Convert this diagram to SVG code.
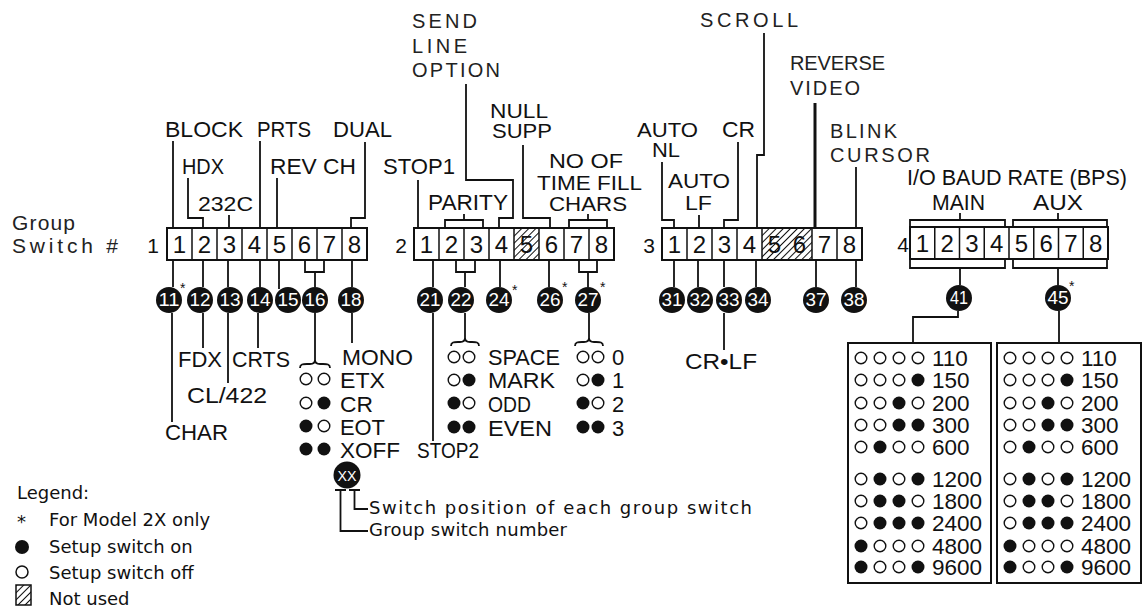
<svg xmlns="http://www.w3.org/2000/svg" width="1145" height="611" viewBox="0 0 1145 611">
<defs>
<pattern id="hatch" patternUnits="userSpaceOnUse" width="5" height="5" patternTransform="rotate(45)">
<line x1="0" y1="0" x2="0" y2="5" stroke="#111" stroke-width="2"/>
</pattern>
<circle id="dOn" cx="0" cy="0" r="6.5" fill="#111"/>
<circle id="dOff" cx="0" cy="0" r="5.8" fill="#fff" stroke="#111" stroke-width="1.4"/>
<style>
.t{font-family:"Liberation Sans",Arial,sans-serif;font-size:22px;fill:#111}
.s{font-family:"Liberation Sans",Arial,sans-serif;font-size:20px;fill:#111}
.w{font-family:"Liberation Sans",Arial,sans-serif;font-size:20px;fill:#222}
.d{font-family:"Liberation Sans",Arial,sans-serif;font-size:24px;fill:#111;text-anchor:middle}
.n{font-family:"Liberation Sans",Arial,sans-serif;font-size:18px;fill:#fff;text-anchor:middle}
.g{font-family:"Liberation Sans",Arial,sans-serif;font-size:21px;fill:#111;text-anchor:end}
.b{font-family:"Liberation Sans",Arial,sans-serif;font-size:22.5px;fill:#111}
.lg{font-family:"DejaVu Sans",sans-serif;font-size:18px;fill:#111}
.ln{stroke:#111;stroke-width:1.8;fill:none}
.box{fill:#fff;stroke:#111;stroke-width:2}
.cell{stroke:#111;stroke-width:1.5;fill:none}
.bk{fill:#111}
.ast{font-family:"Liberation Sans",Arial,sans-serif;font-size:14px;fill:#111}
</style>
</defs>
<rect width="1145" height="611" fill="#fff"/>

<g id="title">
<text class="w" x="12" y="230" style="font-size:21px" textLength="63" lengthAdjust="spacing">Group</text>
<text class="w" x="12" y="253" style="font-size:21px" textLength="106" lengthAdjust="spacing">Switch #</text>
</g>

<!-- connectors -->
<g id="connectors" class="ln">
<!-- group 1 top -->
<path d="M173,141V228"/>
<path d="M188,178V218H203V228"/>
<path d="M229,215V228"/>
<path d="M260,141V228"/>
<path d="M277,178V228"/>
<path d="M365,142V218H351V228"/>
<!-- group 1 bottom -->
<path d="M173,260V287"/>
<path d="M203,260V287"/>
<path d="M228,260V287"/>
<path d="M260,260V287"/>
<path d="M279,260V289"/>
<path d="M305,260V272H324V260M315,272V287"/>
<path d="M352,260V287"/>
<path d="M172,313V422"/>
<path d="M203,313V348"/>
<path d="M228,313V383"/>
<path d="M258,313V348"/>
<path d="M315,313V360"/>
<path d="M300,368C300,364 303,364 307,364H310C313,364 315,363 315,360C315,363 317,364 320,364H323C327,364 330,364 330,368"/>
<path d="M352,313V343"/>
<!-- group 2 top -->
<path d="M418,180V228"/>
<path d="M445,228V220H483V228M464,220V214"/>
<path d="M466,84V180H513V218H499V228"/>
<path d="M523,145V218H550V228"/>
<path d="M569,228V220H607V228M588,220V214"/>
<!-- group 2 bottom -->
<path d="M433,260V287"/>
<path d="M456,260V272H475V260M465,272V287"/>
<path d="M500,260V287"/>
<path d="M549,260V287"/>
<path d="M579,260V272H597V260M588,272V287"/>
<path d="M433,313V441"/>
<path d="M465,313V338"/>
<path d="M451,346C451,342 454,342 458,342H460C463,342 465,341 465,338C465,341 467,342 470,342H472C476,342 479,342 479,346"/>
<path d="M589,313V338"/>
<path d="M575,346C575,342 578,342 582,342H584C587,342 589,341 589,338C589,341 591,342 594,342H596C600,342 603,342 603,346"/>
<!-- group 3 top -->
<path d="M662,162V220H674V228"/>
<path d="M699,215V228"/>
<path d="M738,142V220H724V228"/>
<path d="M764,33V155H757V228"/>
<path d="M815,103V228" stroke-width="3"/>
<path d="M856,167V228"/>
<!-- group 3 bottom -->
<path d="M674,260V287"/>
<path d="M698,260V287"/>
<path d="M724,260V287"/>
<path d="M756,260V287"/>
<path d="M816,260V287"/>
<path d="M856,260V287"/>
<path d="M724,313V350"/>
<!-- group 4 -->
<path d="M910,228V220H1005V228M960,220V213"/>
<path d="M1013,228V220H1107V228M1058,220V213"/>
<path d="M910,259V268H1005V259M960,268V285"/>
<path d="M1013,259V268H1107V259M1058,268V285"/>
<path d="M958,311V317H913V343"/>
<path d="M1059,311V343"/>
<!-- legend key -->
<path d="M335,490H346M340.5,490V531H368"/>
<path d="M349,490H360M354.5,490V509H368"/>
</g>

<!-- switch group 1 -->
<g id="switch1">
<text class="g" x="159" y="253">1</text>
<rect class="box" x="167" y="228" width="200" height="32"/>
<path class="cell" d="M192,228V260M217,228V260M242,228V260M267,228V260M292,228V260M317,228V260M342,228V260"/>
<text class="d" x="179.5" y="253">1</text><text class="d" x="204.5" y="253">2</text><text class="d" x="229.5" y="253">3</text><text class="d" x="254.5" y="253">4</text><text class="d" x="279.5" y="253">5</text><text class="d" x="304.5" y="253">6</text><text class="d" x="329.5" y="253">7</text><text class="d" x="354.5" y="253">8</text>
</g>

<!-- switch group 2 -->
<g id="switch2">
<text class="g" x="407" y="253">2</text>
<rect class="box" x="414" y="228" width="200" height="32"/>
<text class="d" x="426.5" y="253">1</text><text class="d" x="451.5" y="253">2</text><text class="d" x="476.5" y="253">3</text><text class="d" x="501.5" y="253">4</text><text class="d" x="526.5" y="253">5</text><text class="d" x="551.5" y="253">6</text><text class="d" x="576.5" y="253">7</text><text class="d" x="601.5" y="253">8</text>
<rect x="514" y="229" width="25" height="30" fill="url(#hatch)"/>
<path class="cell" d="M439,228V260M464,228V260M489,228V260M514,228V260M539,228V260M564,228V260M589,228V260"/>
</g>

<!-- switch group 3 -->
<g id="switch3">
<text class="g" x="655" y="253">3</text>
<rect class="box" x="662" y="228" width="200" height="32"/>
<text class="d" x="674.5" y="253">1</text><text class="d" x="699.5" y="253">2</text><text class="d" x="724.5" y="253">3</text><text class="d" x="749.5" y="253">4</text><text class="d" x="774.5" y="253">5</text><text class="d" x="799.5" y="253">6</text><text class="d" x="824.5" y="253">7</text><text class="d" x="849.5" y="253">8</text>
<rect x="762" y="229" width="50" height="30" fill="url(#hatch)"/>
<path class="cell" d="M687,228V260M712,228V260M737,228V260M762,228V260M812,228V260M837,228V260"/>
</g>

<!-- switch group 4 -->
<g id="switch4">
<text class="g" x="909" y="252">4</text>
<rect class="box" x="910" y="227" width="198" height="32"/>
<path class="cell" d="M934.75,227V259M959.5,227V259M984.25,227V259M1009,227V259M1033.75,227V259M1058.5,227V259M1083.25,227V259"/>
<text class="d" x="922.4" y="252">1</text><text class="d" x="947.1" y="252">2</text><text class="d" x="971.9" y="252">3</text><text class="d" x="996.6" y="252">4</text><text class="d" x="1021.4" y="252">5</text><text class="d" x="1046.1" y="252">6</text><text class="d" x="1070.9" y="252">7</text><text class="d" x="1095.6" y="252">8</text>
</g>

<!-- top labels -->
<g id="labels-top">
<text class="t" x="165" y="137" textLength="78" lengthAdjust="spacingAndGlyphs">BLOCK</text>
<text class="t" x="257" y="137" textLength="54" lengthAdjust="spacingAndGlyphs">PRTS</text>
<text class="t" x="333" y="137" textLength="59" lengthAdjust="spacingAndGlyphs">DUAL</text>
<text class="t" x="182" y="174" textLength="42" lengthAdjust="spacingAndGlyphs">HDX</text>
<text class="t" x="270" y="174" textLength="86" lengthAdjust="spacingAndGlyphs">REV CH</text>
<text class="s" x="198" y="211" textLength="55" lengthAdjust="spacingAndGlyphs">232C</text>
<text class="w" x="412" y="28" textLength="65" lengthAdjust="spacing">SEND</text>
<text class="w" x="412" y="53" textLength="55" lengthAdjust="spacing">LINE</text>
<text class="w" x="412" y="77" textLength="88" lengthAdjust="spacing">OPTION</text>
<text class="t" x="383" y="174" textLength="72" lengthAdjust="spacingAndGlyphs">STOP1</text>
<text class="t" x="428" y="210" textLength="80" lengthAdjust="spacingAndGlyphs">PARITY</text>
<text class="s" x="490" y="118" textLength="58" lengthAdjust="spacingAndGlyphs">NULL</text>
<text class="s" x="492" y="138" textLength="60" lengthAdjust="spacingAndGlyphs">SUPP</text>
<text class="s" x="549" y="168" textLength="74" lengthAdjust="spacingAndGlyphs">NO OF</text>
<text class="s" x="537" y="190" textLength="105" lengthAdjust="spacingAndGlyphs">TIME FILL</text>
<text class="s" x="549" y="211" textLength="78" lengthAdjust="spacingAndGlyphs">CHARS</text>
<text class="s" x="637" y="137" textLength="61" lengthAdjust="spacingAndGlyphs">AUTO</text>
<text class="s" x="652" y="157" textLength="28" lengthAdjust="spacingAndGlyphs">NL</text>
<text class="s" x="668" y="188" textLength="62" lengthAdjust="spacingAndGlyphs">AUTO</text>
<text class="s" x="685" y="210" textLength="27" lengthAdjust="spacingAndGlyphs">LF</text>
<text class="t" x="722" y="137" textLength="33" lengthAdjust="spacingAndGlyphs">CR</text>
<text class="w" x="700" y="27" textLength="98" lengthAdjust="spacing">SCROLL</text>
<text class="w" x="790" y="70" textLength="95" lengthAdjust="spacing">REVERSE</text>
<text class="w" x="790" y="95" textLength="70" lengthAdjust="spacing">VIDEO</text>
<text class="w" x="830" y="138" textLength="67" lengthAdjust="spacing">BLINK</text>
<text class="w" x="830" y="162" textLength="100" lengthAdjust="spacing">CURSOR</text>
<text class="t" x="907" y="185" textLength="220" lengthAdjust="spacingAndGlyphs">I/O BAUD RATE (BPS)</text>
<text class="t" x="932" y="210" textLength="53" lengthAdjust="spacingAndGlyphs">MAIN</text>
<text class="t" x="1033" y="210" textLength="50" lengthAdjust="spacingAndGlyphs">AUX</text>
</g>

<!-- badges -->
<g id="b11"><circle class="bk" cx="169" cy="300" r="13"/><text class="n" x="169" y="306" textLength="21" lengthAdjust="spacingAndGlyphs">11</text><text class="ast" x="180" y="293">*</text></g>
<g id="b12"><circle class="bk" cx="200" cy="300" r="13"/><text class="n" x="200" y="306" textLength="21" lengthAdjust="spacingAndGlyphs">12</text></g>
<g id="b13"><circle class="bk" cx="230" cy="300" r="13"/><text class="n" x="230" y="306" textLength="21" lengthAdjust="spacingAndGlyphs">13</text></g>
<g id="b14"><circle class="bk" cx="260" cy="300" r="13"/><text class="n" x="260" y="306" textLength="21" lengthAdjust="spacingAndGlyphs">14</text></g>
<g id="b15"><circle class="bk" cx="288" cy="300" r="13"/><text class="n" x="288" y="306" textLength="21" lengthAdjust="spacingAndGlyphs">15</text></g>
<g id="b16"><circle class="bk" cx="315" cy="300" r="13"/><text class="n" x="315" y="306" textLength="21" lengthAdjust="spacingAndGlyphs">16</text></g>
<g id="b18"><circle class="bk" cx="351" cy="300" r="13"/><text class="n" x="351" y="306" textLength="21" lengthAdjust="spacingAndGlyphs">18</text></g>
<g id="b21"><circle class="bk" cx="430" cy="300" r="13"/><text class="n" x="430" y="306" textLength="21" lengthAdjust="spacingAndGlyphs">21</text></g>
<g id="b22"><circle class="bk" cx="461" cy="300" r="13"/><text class="n" x="461" y="306" textLength="21" lengthAdjust="spacingAndGlyphs">22</text></g>
<g id="b24"><circle class="bk" cx="499" cy="300" r="13"/><text class="n" x="499" y="306" textLength="21" lengthAdjust="spacingAndGlyphs">24</text><text class="ast" x="512" y="295">*</text></g>
<g id="b26"><circle class="bk" cx="550" cy="300" r="13"/><text class="n" x="550" y="306" textLength="21" lengthAdjust="spacingAndGlyphs">26</text><text class="ast" x="562" y="292">*</text></g>
<g id="b27"><circle class="bk" cx="588" cy="300" r="13"/><text class="n" x="588" y="306" textLength="21" lengthAdjust="spacingAndGlyphs">27</text><text class="ast" x="600" y="292">*</text></g>
<g id="b31"><circle class="bk" cx="672" cy="300" r="13"/><text class="n" x="672" y="306" textLength="21" lengthAdjust="spacingAndGlyphs">31</text></g>
<g id="b32"><circle class="bk" cx="700" cy="300" r="13"/><text class="n" x="700" y="306" textLength="21" lengthAdjust="spacingAndGlyphs">32</text></g>
<g id="b33"><circle class="bk" cx="729" cy="300" r="13"/><text class="n" x="729" y="306" textLength="21" lengthAdjust="spacingAndGlyphs">33</text></g>
<g id="b34"><circle class="bk" cx="758" cy="300" r="13"/><text class="n" x="758" y="306" textLength="21" lengthAdjust="spacingAndGlyphs">34</text></g>
<g id="b37"><circle class="bk" cx="816" cy="300" r="13"/><text class="n" x="816" y="306" textLength="21" lengthAdjust="spacingAndGlyphs">37</text></g>
<g id="b38"><circle class="bk" cx="854" cy="300" r="13"/><text class="n" x="854" y="306" textLength="21" lengthAdjust="spacingAndGlyphs">38</text></g>
<g id="b41"><circle class="bk" cx="959" cy="298" r="13"/><text class="n" x="959" y="304" textLength="18" lengthAdjust="spacingAndGlyphs">41</text></g>
<g id="b45"><circle class="bk" cx="1058" cy="298" r="13"/><text class="n" x="1058" y="304" textLength="21" lengthAdjust="spacingAndGlyphs">45</text><text class="ast" x="1069" y="291">*</text></g>

<!-- bottom labels group 1 -->
<g id="labels-g1">
<text class="t" x="165" y="440" textLength="63" lengthAdjust="spacingAndGlyphs">CHAR</text>
<text class="t" x="178" y="367" textLength="44" lengthAdjust="spacingAndGlyphs">FDX</text>
<text class="t" x="187" y="403" textLength="80" lengthAdjust="spacingAndGlyphs">CL/422</text>
<text class="t" x="232" y="367" textLength="58" lengthAdjust="spacingAndGlyphs">CRTS</text>
<text class="t" x="342" y="365" textLength="71" lengthAdjust="spacingAndGlyphs">MONO</text>
<use href="#dOff" x="306" y="379"/><use href="#dOff" x="324" y="379"/>
<text class="t" x="340" y="388" textLength="45" lengthAdjust="spacingAndGlyphs">ETX</text>
<use href="#dOff" x="306" y="403"/><use href="#dOn" x="324" y="403"/>
<text class="t" x="340" y="412" textLength="33" lengthAdjust="spacingAndGlyphs">CR</text>
<use href="#dOn" x="306" y="426"/><use href="#dOff" x="324" y="426"/>
<text class="t" x="340" y="435" textLength="45" lengthAdjust="spacingAndGlyphs">EOT</text>
<use href="#dOn" x="306" y="449"/><use href="#dOn" x="324" y="449"/>
<text class="t" x="340" y="458" textLength="60" lengthAdjust="spacingAndGlyphs">XOFF</text>
</g>

<!-- bottom labels group 2 -->
<g id="labels-g2">
<text class="t" x="417" y="458" textLength="62" lengthAdjust="spacingAndGlyphs">STOP2</text>
<use href="#dOff" x="454" y="357"/><use href="#dOff" x="469" y="357"/>
<text class="t" x="488" y="365" textLength="72" lengthAdjust="spacingAndGlyphs">SPACE</text>
<use href="#dOff" x="454" y="380"/><use href="#dOn" x="469" y="380"/>
<text class="t" x="488" y="388" textLength="67" lengthAdjust="spacingAndGlyphs">MARK</text>
<use href="#dOn" x="454" y="403"/><use href="#dOff" x="469" y="403"/>
<text class="t" x="488" y="412" textLength="43" lengthAdjust="spacingAndGlyphs">ODD</text>
<use href="#dOn" x="454" y="427"/><use href="#dOn" x="469" y="427"/>
<text class="t" x="488" y="436" textLength="64" lengthAdjust="spacingAndGlyphs">EVEN</text>
<use href="#dOff" x="583" y="357"/><use href="#dOff" x="598" y="357"/>
<text class="t" x="612" y="365">0</text>
<use href="#dOff" x="583" y="380"/><use href="#dOn" x="598" y="380"/>
<text class="t" x="612" y="388">1</text>
<use href="#dOn" x="583" y="403"/><use href="#dOff" x="598" y="403"/>
<text class="t" x="612" y="412">2</text>
<use href="#dOn" x="583" y="427"/><use href="#dOn" x="598" y="427"/>
<text class="t" x="612" y="436">3</text>
</g>

<g id="labels-g3">
<text class="t" x="685" y="369" textLength="72" lengthAdjust="spacingAndGlyphs">CR•LF</text>
</g>

<!-- baud tables -->
<g id="table-main">
<rect x="848" y="343" width="143" height="240" fill="#fff" stroke="#111" stroke-width="2"/>
<use href="#dOff" x="861" y="358"/><use href="#dOff" x="880" y="358"/><use href="#dOff" x="899" y="358"/><use href="#dOff" x="918" y="358"/><text class="b" x="932" y="366">110</text>
<use href="#dOff" x="861" y="380"/><use href="#dOff" x="880" y="380"/><use href="#dOff" x="899" y="380"/><use href="#dOn" x="918" y="380"/><text class="b" x="932" y="388">150</text>
<use href="#dOff" x="861" y="403"/><use href="#dOff" x="880" y="403"/><use href="#dOn" x="899" y="403"/><use href="#dOff" x="918" y="403"/><text class="b" x="932" y="411">200</text>
<use href="#dOff" x="861" y="425"/><use href="#dOff" x="880" y="425"/><use href="#dOn" x="899" y="425"/><use href="#dOn" x="918" y="425"/><text class="b" x="932" y="433">300</text>
<use href="#dOff" x="861" y="447"/><use href="#dOn" x="880" y="447"/><use href="#dOff" x="899" y="447"/><use href="#dOff" x="918" y="447"/><text class="b" x="932" y="455">600</text>
<use href="#dOff" x="861" y="479"/><use href="#dOn" x="880" y="479"/><use href="#dOff" x="899" y="479"/><use href="#dOn" x="918" y="479"/><text class="b" x="932" y="487">1200</text>
<use href="#dOff" x="861" y="501"/><use href="#dOn" x="880" y="501"/><use href="#dOn" x="899" y="501"/><use href="#dOff" x="918" y="501"/><text class="b" x="932" y="509">1800</text>
<use href="#dOff" x="861" y="523"/><use href="#dOn" x="880" y="523"/><use href="#dOn" x="899" y="523"/><use href="#dOn" x="918" y="523"/><text class="b" x="932" y="531">2400</text>
<use href="#dOn" x="861" y="546"/><use href="#dOff" x="880" y="546"/><use href="#dOff" x="899" y="546"/><use href="#dOff" x="918" y="546"/><text class="b" x="932" y="554">4800</text>
<use href="#dOn" x="861" y="567"/><use href="#dOff" x="880" y="567"/><use href="#dOff" x="899" y="567"/><use href="#dOn" x="918" y="567"/><text class="b" x="932" y="575">9600</text>
</g>
<g id="table-aux">
<rect x="997" y="343" width="144" height="240" fill="#fff" stroke="#111" stroke-width="2"/>
<use href="#dOff" x="1010" y="358"/><use href="#dOff" x="1029" y="358"/><use href="#dOff" x="1048" y="358"/><use href="#dOff" x="1067" y="358"/><text class="b" x="1081" y="366">110</text>
<use href="#dOff" x="1010" y="380"/><use href="#dOff" x="1029" y="380"/><use href="#dOff" x="1048" y="380"/><use href="#dOn" x="1067" y="380"/><text class="b" x="1081" y="388">150</text>
<use href="#dOff" x="1010" y="403"/><use href="#dOff" x="1029" y="403"/><use href="#dOn" x="1048" y="403"/><use href="#dOff" x="1067" y="403"/><text class="b" x="1081" y="411">200</text>
<use href="#dOff" x="1010" y="425"/><use href="#dOff" x="1029" y="425"/><use href="#dOn" x="1048" y="425"/><use href="#dOn" x="1067" y="425"/><text class="b" x="1081" y="433">300</text>
<use href="#dOff" x="1010" y="447"/><use href="#dOn" x="1029" y="447"/><use href="#dOff" x="1048" y="447"/><use href="#dOff" x="1067" y="447"/><text class="b" x="1081" y="455">600</text>
<use href="#dOff" x="1010" y="479"/><use href="#dOn" x="1029" y="479"/><use href="#dOff" x="1048" y="479"/><use href="#dOn" x="1067" y="479"/><text class="b" x="1081" y="487">1200</text>
<use href="#dOff" x="1010" y="501"/><use href="#dOn" x="1029" y="501"/><use href="#dOn" x="1048" y="501"/><use href="#dOff" x="1067" y="501"/><text class="b" x="1081" y="509">1800</text>
<use href="#dOff" x="1010" y="523"/><use href="#dOn" x="1029" y="523"/><use href="#dOn" x="1048" y="523"/><use href="#dOn" x="1067" y="523"/><text class="b" x="1081" y="531">2400</text>
<use href="#dOn" x="1010" y="546"/><use href="#dOff" x="1029" y="546"/><use href="#dOff" x="1048" y="546"/><use href="#dOff" x="1067" y="546"/><text class="b" x="1081" y="554">4800</text>
<use href="#dOn" x="1010" y="567"/><use href="#dOff" x="1029" y="567"/><use href="#dOff" x="1048" y="567"/><use href="#dOn" x="1067" y="567"/><text class="b" x="1081" y="575">9600</text>
</g>

<!-- legend -->
<g id="legend">
<text class="lg" x="17" y="499">Legend:</text>
<text class="lg" x="17" y="528">*</text>
<text class="lg" x="49" y="526">For Model 2X only</text>
<circle cx="22" cy="547" r="7" fill="#111"/>
<text class="lg" x="49" y="553">Setup switch on</text>
<circle cx="22" cy="572" r="6" fill="#fff" stroke="#111" stroke-width="1.5"/>
<text class="lg" x="49" y="579">Setup switch off</text>
<rect x="16" y="585" width="15" height="20" fill="url(#hatch)" stroke="#111" stroke-width="1.5"/>
<text class="lg" x="49" y="605">Not used</text>
</g>
<g id="legend-key">
<circle class="bk" cx="347" cy="475" r="13.5"/>
<text class="n" x="347" y="481" style="font-size:15px" textLength="19" lengthAdjust="spacingAndGlyphs">XX</text>
<text class="lg" x="369" y="514" textLength="383" lengthAdjust="spacing">Switch position of each group switch</text>
<text class="lg" x="369" y="536" textLength="198" lengthAdjust="spacing">Group switch number</text>
</g>
</svg>
